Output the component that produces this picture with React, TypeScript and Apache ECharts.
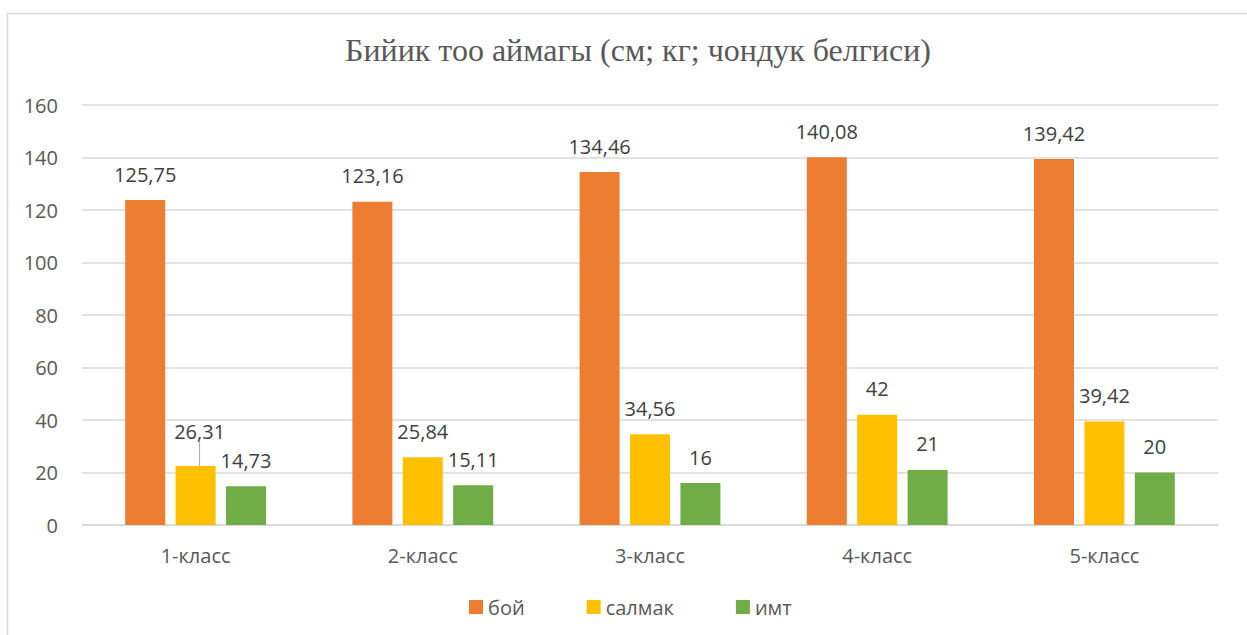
import React, { useEffect, useRef } from 'react';
import * as echarts from 'echarts';

const categories = ['1-класс', '2-класс', '3-класс', '4-класс', '5-класс'];
const seriesNames = ['бой', 'салмак', 'имт'];
const boyValues = [123.8, 123.16, 134.46, 140.08, 139.42];
const salmakValues = [22.5, 25.84, 34.56, 42, 39.42];
const imtValues = [14.73, 15.11, 16, 21, 20];
const boyLabels = ['125,75', '123,16', '134,46', '140,08', '139,42'];
const salmakLabels = ['26,31', '25,84', '34,56', '42', '39,42'];
const imtLabels = ['14,73', '15,11', '16', '21', '20'];
const colors = ['#ED7D31', '#FFC000', '#70AD47'];
const titleText = 'Бийик тоо аймагы (см; кг; чондук белгиси)';

const FONT = '"Open Sans", "Noto Sans", sans-serif';

export default function App() {
  const ref = useRef<HTMLDivElement>(null);
  useEffect(() => {
    document.body.style.margin = '0';
    if (!ref.current) return;
    const chart = echarts.init(ref.current, undefined, { renderer: 'svg' });
    const label = (texts: string[]) => ({
      show: true,
      position: 'top',
      distance: 16,
      color: '#404040',
      fontFamily: FONT,
      fontSize: 20,
      formatter: (p: any) => texts[p.dataIndex],
    });
    chart.setOption({
      animation: false,
      backgroundColor: '#ffffff',
      color: colors,
      title: {
        text: titleText,
        left: 633,
        top: 29,
        textAlign: 'center',
        textStyle: {
          fontFamily: '"Liberation Serif", "Times New Roman", serif',
          fontWeight: 'normal',
          fontSize: 32,
          color: '#595959',
        },
      },
      graphic: [
        {
          type: 'rect',
          shape: { x: 7.5, y: 13.5, width: 1400, height: 800 },
          style: { fill: 'none', stroke: '#d9d9d9', lineWidth: 1.5 },
          silent: true,
          z: -10,
        },
      ],
      legend: {
        data: seriesNames,
        left: 464,
        top: 592,
        icon: 'rect',
        itemWidth: 14,
        itemHeight: 14,
        itemGap: 62,
        textStyle: { fontFamily: FONT, fontSize: 20, color: '#595959', padding: [0, 0, 0, 0] },
      },
      grid: { left: 82, right: 29, top: 105, bottom: 110, containLabel: false },
      xAxis: {
        type: 'category',
        data: categories,
        axisLine: { lineStyle: { color: '#d9d9d9', width: 1.5 } },
        axisTick: { show: false },
        axisLabel: { fontFamily: FONT, fontSize: 20, color: '#595959', margin: 20 },
      },
      yAxis: {
        type: 'value',
        min: 0,
        max: 160,
        interval: 20,
        axisLine: { show: false },
        axisTick: { show: false },
        splitLine: { lineStyle: { color: '#d9d9d9', width: 1.5 } },
        axisLabel: { fontFamily: FONT, fontSize: 20, color: '#595959', margin: 24 },
      },
      series: [
        {
          name: seriesNames[0],
          type: 'bar',
          data: boyValues,
          barWidth: 40,
          barGap: '26%',
          label: label(boyLabels),
        },
        {
          name: seriesNames[1],
          type: 'bar',
          data: salmakValues.map((v, i) =>
            i === 0 ? { value: v, labelLine: { show: true } } : v
          ),
          barWidth: 40,
          barGap: '26%',
          label: label(salmakLabels),
          labelLine: { show: false, lineStyle: { color: '#a6a6a6', width: 1 } },
          labelLayout: (p: any) => (p.dataIndex === 0 ? { dx: 4, dy: -8 } : {}),
        },
        {
          name: seriesNames[2],
          type: 'bar',
          data: imtValues,
          barWidth: 40,
          barGap: '26%',
          label: label(imtLabels),
        },
      ],
    });
    return () => chart.dispose();
  }, []);
  return <div ref={ref} style={{ width: 1247, height: 635 }} />;
}
